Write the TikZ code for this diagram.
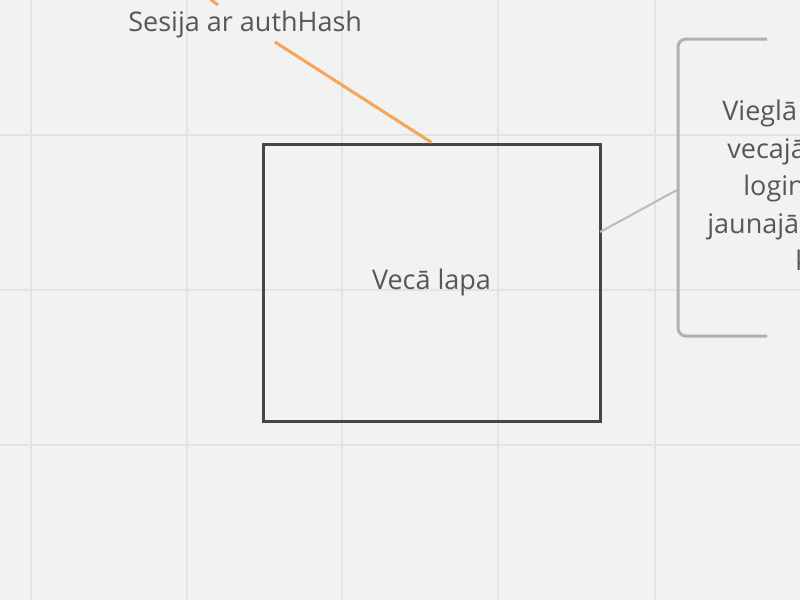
\documentclass[tikz,border=0pt]{standalone}
\usepackage{fontspec}
\setmainfont{Open Sans}
\usepackage{tikz}
\usetikzlibrary{positioning}
\definecolor{canvasBg}{HTML}{F2F2F2}
\definecolor{gridLine}{HTML}{E3E3E3}
\definecolor{pageEdge}{HTML}{454545}
\definecolor{labelText}{HTML}{575757}
\definecolor{sessionLink}{HTML}{F6A45A}
\definecolor{noteGrey}{HTML}{B0B0B0}
\newcommand*{\wMax}{800}
\newcommand*{\hMax}{600}

\begin{document}
\begin{tikzpicture}[x=0.5pt, y=-0.5pt,
    every node/.style={font=\fontsize{13.5}{18}\selectfont, text=labelText},
    page/.style={draw=pageEdge, line width=1.5pt, minimum width=168.5pt, minimum height=138.5pt, inner sep=0pt},
    noteline/.style={anchor=base west, inner sep=0pt}]
    \fill [canvasBg] (0,0) rectangle (\wMax,\hMax);
    \useasboundingbox (0,0) rectangle (\wMax,\hMax);
    \clip (0,0) rectangle (\wMax,\hMax);
    \foreach \gx in {31,187,342,498,655} {
        \draw [gridLine, line width=1pt] (\gx,0) -- (\gx,\hMax);
    }
    \foreach \gy in {135,290,445} {
        \draw [gridLine, line width=1pt] (0,\gy) -- (\wMax,\gy);
    }

    \node [page] (vecaLapa) at (431.5,282.5) {Vecā lapa};
    \node [anchor=base west, inner sep=0pt] (sesija) at (128,31) {Sesija ar authHash};

    %% orange links of the session label
    \coordinate (sesijaBelow) at (275,42);
    \coordinate (sesijaAbove) at (218,5);
    \coordinate (sesijaUp) at (204,-6);
    \draw [sessionLink, line width=1.5pt] (sesijaBelow) -- (vecaLapa.north);
    \draw [sessionLink, line width=1.5pt] (sesijaAbove) -- (sesijaUp);

    %% note bracket on the right
    \coordinate (noteTop) at (767,39);
    \coordinate (noteBottom) at (767,336);
    \coordinate (noteMid) at (677,190);
    \coordinate (lapaSide) at (600,232);
    \draw [noteGrey, line width=1.5pt, rounded corners=4pt] (noteTop) -- (678,39) -- (678,336) -- (noteBottom);
    \draw [noteGrey!85, line width=1pt] (lapaSide) -- (noteMid);

    \node [noteline] (noteA) at (722,120) {Vieglā};
    \node [noteline] (noteB) at (727,158) {vecajā};
    \node [noteline] (noteC) at (743,195) {login};
    \node [noteline] (noteD) at (707,233) {jaunajā};
    \node [noteline] (noteE) at (795,270) {k};
\end{tikzpicture}
\end{document}
